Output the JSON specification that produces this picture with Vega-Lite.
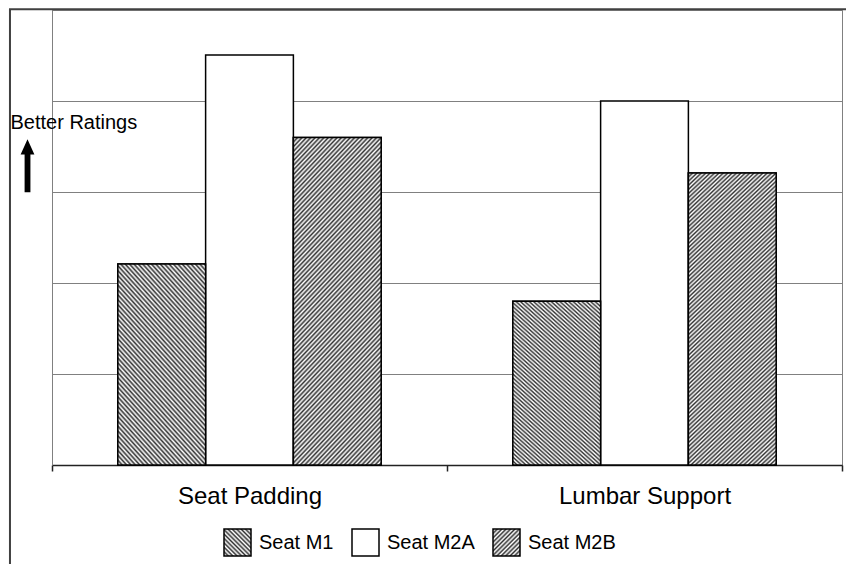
{
"$schema": "https://vega.github.io/schema/vega-lite/v6.json",
"width": 790,
"height": 455,
"autosize": {"type": "none"},
"padding": {"left": 52, "top": 10, "right": 4, "bottom": 99},
"background": "white",
"config": {"font": "Liberation Sans", "view": {"stroke": "#808080", "strokeWidth": 1}},
"resolve": {"scale": {"x": "independent", "y": "independent"}},
"layer": [
{
"data": {"values": [{"k": "frame"}]},
"layer": [
{
"mark": {"type": "rect", "filled": false, "stroke": "#404040", "strokeWidth": 2, "clip": false},
"encoding": {
"x": {"datum": -0.0532, "type": "quantitative", "scale": {"domain": [0, 1], "zero": false, "nice": false}, "axis": null},
"x2": {"datum": 1.2},
"y": {"datum": 5.0088, "type": "quantitative", "scale": {"domain": [0, 5], "zero": false, "nice": false}, "axis": null},
"y2": {"datum": -2}
}
},
{
"mark": {"type": "point", "shape": "M0,-1L0.26,-0.42L0.11,-0.42L0.11,1L-0.11,1L-0.11,-0.42L-0.26,-0.42Z", "filled": true, "color": "black", "opacity": 1, "size": 2800, "clip": false},
"encoding": {
"x": {"datum": -0.031, "type": "quantitative"},
"y": {"datum": 3.289, "type": "quantitative"}
}
}
]
},
{
"data": {"values": [
{"category": "Seat Padding", "series": "Seat M1", "value": 2.21},
{"category": "Seat Padding", "series": "Seat M2A", "value": 4.505},
{"category": "Seat Padding", "series": "Seat M2B", "value": 3.6},
{"category": "Lumbar Support", "series": "Seat M1", "value": 1.8},
{"category": "Lumbar Support", "series": "Seat M2A", "value": 4.0},
{"category": "Lumbar Support", "series": "Seat M2B", "value": 3.21}
]},
"encoding": {
"x": {"field": "category", "type": "nominal", "sort": ["Seat Padding", "Lumbar Support"], "scale": {"domain": ["Seat Padding", "Lumbar Support"], "paddingInner": 0, "paddingOuter": 0},
"axis": {"orient": "bottom", "title": null, "labelAngle": 0, "labelFontSize": 24, "labelColor": "black", "labelBaseline": "alphabetic", "labelPadding": 32, "ticks": true, "tickBand": "extent", "tickSize": 6, "tickColor": "#222", "tickWidth": 1.5, "domainColor": "#222", "domainWidth": 1.5, "grid": false}},
"xOffset": {"field": "series", "type": "nominal", "sort": ["Seat M1", "Seat M2A", "Seat M2B"], "scale": {"domain": ["Seat M1", "Seat M2A", "Seat M2B"], "paddingInner": 0, "paddingOuter": 0.75}},
"y": {"field": "value", "type": "quantitative", "scale": {"domain": [0, 5], "nice": false, "zero": true},
"axis": {"orient": "left", "values": [0, 1, 2, 3, 4, 5], "grid": true, "gridColor": "#808080", "gridWidth": 1, "domainColor": "#808080", "domainWidth": 1, "ticks": false, "labels": false, "title": "Better Ratings", "titleAngle": 0, "titleAlign": "left", "titleBaseline": "alphabetic", "titleX": -42, "titleY": 118, "titleFontSize": 20, "titleFontWeight": "normal", "titleColor": "black", "titleFont": "Liberation Sans"}}
},
"layer": [
{
"mark": {"type": "bar", "stroke": "black", "strokeWidth": 1.5},
"encoding": {
"fill": {"field": "series", "type": "nominal", "scale": {"domain": ["Seat M1", "Seat M2A", "Seat M2B"], "range": [
{"expr": "{gradient:'linear',x1:0,y1:1,x2:8.15,y2:-7.15,stops:[{offset:0,color:'#333'},{offset:0.005,color:'#fff'},{offset:0.01,color:'#333'},{offset:0.015,color:'#fff'},{offset:0.02,color:'#333'},{offset:0.025,color:'#fff'},{offset:0.03,color:'#333'},{offset:0.035,color:'#fff'},{offset:0.04,color:'#333'},{offset:0.045,color:'#fff'},{offset:0.05,color:'#333'},{offset:0.055,color:'#fff'},{offset:0.06,color:'#333'},{offset:0.065,color:'#fff'},{offset:0.07,color:'#333'},{offset:0.075,color:'#fff'},{offset:0.08,color:'#333'},{offset:0.085,color:'#fff'},{offset:0.09,color:'#333'},{offset:0.095,color:'#fff'},{offset:0.1,color:'#333'},{offset:0.105,color:'#fff'},{offset:0.11,color:'#333'},{offset:0.115,color:'#fff'},{offset:0.12,color:'#333'},{offset:0.125,color:'#fff'}]}"},
"#ffffff",
{"expr": "{gradient:'linear',x1:0,y1:0,x2:8.15,y2:8.15,stops:[{offset:0,color:'#333'},{offset:0.005,color:'#fff'},{offset:0.01,color:'#333'},{offset:0.015,color:'#fff'},{offset:0.02,color:'#333'},{offset:0.025,color:'#fff'},{offset:0.03,color:'#333'},{offset:0.035,color:'#fff'},{offset:0.04,color:'#333'},{offset:0.045,color:'#fff'},{offset:0.05,color:'#333'},{offset:0.055,color:'#fff'},{offset:0.06,color:'#333'},{offset:0.065,color:'#fff'},{offset:0.07,color:'#333'},{offset:0.075,color:'#fff'},{offset:0.08,color:'#333'},{offset:0.085,color:'#fff'},{offset:0.09,color:'#333'},{offset:0.095,color:'#fff'},{offset:0.1,color:'#333'},{offset:0.105,color:'#fff'},{offset:0.11,color:'#333'},{offset:0.115,color:'#fff'},{offset:0.12,color:'#333'},{offset:0.125,color:'#fff'}]}"}
]},
"legend": {"title": null, "orient": "none", "legendX": 171, "legendY": 518, "direction": "horizontal", "padding": 0, "symbolType": "square", "symbolSize": 729, "symbolStrokeColor": "black", "symbolStrokeWidth": 1.5, "symbolOpacity": 1, "labelFontSize": 20, "labelColor": "black", "labelFont": "Liberation Sans", "labelOffset": 7, "columnPadding": 15}}
}
},
{
"transform": [{"filter": "datum.series === 'Seat M1'"}],
"mark": {"type": "bar", "stroke": "black", "strokeWidth": 1.5, "fill": {"gradient": "linear", "x1": 0, "y1": 1, "x2": 0.947, "y2": -0.96, "stops": [
{"offset":0,"color":"#333"},{"offset":0.005,"color":"#fff"},{"offset":0.01,"color":"#333"},{"offset":0.015,"color":"#fff"},{"offset":0.02,"color":"#333"},{"offset":0.025,"color":"#fff"},{"offset":0.03,"color":"#333"},{"offset":0.035,"color":"#fff"},{"offset":0.04,"color":"#333"},{"offset":0.045,"color":"#fff"},{"offset":0.05,"color":"#333"},{"offset":0.055,"color":"#fff"},{"offset":0.06,"color":"#333"},{"offset":0.065,"color":"#fff"},{"offset":0.07,"color":"#333"},{"offset":0.075,"color":"#fff"},{"offset":0.08,"color":"#333"},{"offset":0.085,"color":"#fff"},{"offset":0.09,"color":"#333"},{"offset":0.095,"color":"#fff"},
{"offset":0.1,"color":"#333"},{"offset":0.105,"color":"#fff"},{"offset":0.11,"color":"#333"},{"offset":0.115,"color":"#fff"},{"offset":0.12,"color":"#333"},{"offset":0.125,"color":"#fff"},{"offset":0.13,"color":"#333"},{"offset":0.135,"color":"#fff"},{"offset":0.14,"color":"#333"},{"offset":0.145,"color":"#fff"},{"offset":0.15,"color":"#333"},{"offset":0.155,"color":"#fff"},{"offset":0.16,"color":"#333"},{"offset":0.165,"color":"#fff"},{"offset":0.17,"color":"#333"},{"offset":0.175,"color":"#fff"},{"offset":0.18,"color":"#333"},{"offset":0.185,"color":"#fff"},{"offset":0.19,"color":"#333"},{"offset":0.195,"color":"#fff"},
{"offset":0.2,"color":"#333"},{"offset":0.205,"color":"#fff"},{"offset":0.21,"color":"#333"},{"offset":0.215,"color":"#fff"},{"offset":0.22,"color":"#333"},{"offset":0.225,"color":"#fff"},{"offset":0.23,"color":"#333"},{"offset":0.235,"color":"#fff"},{"offset":0.24,"color":"#333"},{"offset":0.245,"color":"#fff"},{"offset":0.25,"color":"#333"},{"offset":0.255,"color":"#fff"},{"offset":0.26,"color":"#333"},{"offset":0.265,"color":"#fff"},{"offset":0.27,"color":"#333"},{"offset":0.275,"color":"#fff"},{"offset":0.28,"color":"#333"},{"offset":0.285,"color":"#fff"},{"offset":0.29,"color":"#333"},{"offset":0.295,"color":"#fff"},
{"offset":0.3,"color":"#333"},{"offset":0.305,"color":"#fff"},{"offset":0.31,"color":"#333"},{"offset":0.315,"color":"#fff"},{"offset":0.32,"color":"#333"},{"offset":0.325,"color":"#fff"},{"offset":0.33,"color":"#333"},{"offset":0.335,"color":"#fff"},{"offset":0.34,"color":"#333"},{"offset":0.345,"color":"#fff"},{"offset":0.35,"color":"#333"},{"offset":0.355,"color":"#fff"},{"offset":0.36,"color":"#333"},{"offset":0.365,"color":"#fff"},{"offset":0.37,"color":"#333"},{"offset":0.375,"color":"#fff"},{"offset":0.38,"color":"#333"},{"offset":0.385,"color":"#fff"},{"offset":0.39,"color":"#333"},{"offset":0.395,"color":"#fff"},
{"offset":0.4,"color":"#333"},{"offset":0.405,"color":"#fff"},{"offset":0.41,"color":"#333"},{"offset":0.415,"color":"#fff"},{"offset":0.42,"color":"#333"},{"offset":0.425,"color":"#fff"},{"offset":0.43,"color":"#333"},{"offset":0.435,"color":"#fff"},{"offset":0.44,"color":"#333"},{"offset":0.445,"color":"#fff"},{"offset":0.45,"color":"#333"},{"offset":0.455,"color":"#fff"},{"offset":0.46,"color":"#333"},{"offset":0.465,"color":"#fff"},{"offset":0.47,"color":"#333"},{"offset":0.475,"color":"#fff"},{"offset":0.48,"color":"#333"},{"offset":0.485,"color":"#fff"},{"offset":0.49,"color":"#333"},{"offset":0.495,"color":"#fff"},
{"offset":0.5,"color":"#333"},{"offset":0.505,"color":"#fff"},{"offset":0.51,"color":"#333"},{"offset":0.515,"color":"#fff"},{"offset":0.52,"color":"#333"},{"offset":0.525,"color":"#fff"},{"offset":0.53,"color":"#333"},{"offset":0.535,"color":"#fff"},{"offset":0.54,"color":"#333"},{"offset":0.545,"color":"#fff"},{"offset":0.55,"color":"#333"},{"offset":0.555,"color":"#fff"},{"offset":0.56,"color":"#333"},{"offset":0.565,"color":"#fff"},{"offset":0.57,"color":"#333"},{"offset":0.575,"color":"#fff"},{"offset":0.58,"color":"#333"},{"offset":0.585,"color":"#fff"},{"offset":0.59,"color":"#333"},{"offset":0.595,"color":"#fff"},
{"offset":0.6,"color":"#333"},{"offset":0.605,"color":"#fff"},{"offset":0.61,"color":"#333"},{"offset":0.615,"color":"#fff"}
]}}
},
{
"transform": [{"filter": "datum.series === 'Seat M2B'"}],
"mark": {"type": "bar", "stroke": "black", "strokeWidth": 1.5, "fill": {"gradient": "linear", "x1": 0, "y1": 0, "x2": 0.373, "y2": 1.314, "stops": [
{"offset":0,"color":"#333"},{"offset":0.005,"color":"#fff"},{"offset":0.01,"color":"#333"},{"offset":0.015,"color":"#fff"},{"offset":0.02,"color":"#333"},{"offset":0.025,"color":"#fff"},{"offset":0.03,"color":"#333"},{"offset":0.035,"color":"#fff"},{"offset":0.04,"color":"#333"},{"offset":0.045,"color":"#fff"},{"offset":0.05,"color":"#333"},{"offset":0.055,"color":"#fff"},{"offset":0.06,"color":"#333"},{"offset":0.065,"color":"#fff"},{"offset":0.07,"color":"#333"},{"offset":0.075,"color":"#fff"},{"offset":0.08,"color":"#333"},{"offset":0.085,"color":"#fff"},{"offset":0.09,"color":"#333"},{"offset":0.095,"color":"#fff"},
{"offset":0.1,"color":"#333"},{"offset":0.105,"color":"#fff"},{"offset":0.11,"color":"#333"},{"offset":0.115,"color":"#fff"},{"offset":0.12,"color":"#333"},{"offset":0.125,"color":"#fff"},{"offset":0.13,"color":"#333"},{"offset":0.135,"color":"#fff"},{"offset":0.14,"color":"#333"},{"offset":0.145,"color":"#fff"},{"offset":0.15,"color":"#333"},{"offset":0.155,"color":"#fff"},{"offset":0.16,"color":"#333"},{"offset":0.165,"color":"#fff"},{"offset":0.17,"color":"#333"},{"offset":0.175,"color":"#fff"},{"offset":0.18,"color":"#333"},{"offset":0.185,"color":"#fff"},{"offset":0.19,"color":"#333"},{"offset":0.195,"color":"#fff"},
{"offset":0.2,"color":"#333"},{"offset":0.205,"color":"#fff"},{"offset":0.21,"color":"#333"},{"offset":0.215,"color":"#fff"},{"offset":0.22,"color":"#333"},{"offset":0.225,"color":"#fff"},{"offset":0.23,"color":"#333"},{"offset":0.235,"color":"#fff"},{"offset":0.24,"color":"#333"},{"offset":0.245,"color":"#fff"},{"offset":0.25,"color":"#333"},{"offset":0.255,"color":"#fff"},{"offset":0.26,"color":"#333"},{"offset":0.265,"color":"#fff"},{"offset":0.27,"color":"#333"},{"offset":0.275,"color":"#fff"},{"offset":0.28,"color":"#333"},{"offset":0.285,"color":"#fff"},{"offset":0.29,"color":"#333"},{"offset":0.295,"color":"#fff"},
{"offset":0.3,"color":"#333"},{"offset":0.305,"color":"#fff"},{"offset":0.31,"color":"#333"},{"offset":0.315,"color":"#fff"},{"offset":0.32,"color":"#333"},{"offset":0.325,"color":"#fff"},{"offset":0.33,"color":"#333"},{"offset":0.335,"color":"#fff"},{"offset":0.34,"color":"#333"},{"offset":0.345,"color":"#fff"},{"offset":0.35,"color":"#333"},{"offset":0.355,"color":"#fff"},{"offset":0.36,"color":"#333"},{"offset":0.365,"color":"#fff"},{"offset":0.37,"color":"#333"},{"offset":0.375,"color":"#fff"},{"offset":0.38,"color":"#333"},{"offset":0.385,"color":"#fff"},{"offset":0.39,"color":"#333"},{"offset":0.395,"color":"#fff"},
{"offset":0.4,"color":"#333"},{"offset":0.405,"color":"#fff"},{"offset":0.41,"color":"#333"},{"offset":0.415,"color":"#fff"},{"offset":0.42,"color":"#333"},{"offset":0.425,"color":"#fff"},{"offset":0.43,"color":"#333"},{"offset":0.435,"color":"#fff"},{"offset":0.44,"color":"#333"},{"offset":0.445,"color":"#fff"},{"offset":0.45,"color":"#333"},{"offset":0.455,"color":"#fff"},{"offset":0.46,"color":"#333"},{"offset":0.465,"color":"#fff"},{"offset":0.47,"color":"#333"},{"offset":0.475,"color":"#fff"},{"offset":0.48,"color":"#333"},{"offset":0.485,"color":"#fff"},{"offset":0.49,"color":"#333"},{"offset":0.495,"color":"#fff"},
{"offset":0.5,"color":"#333"},{"offset":0.505,"color":"#fff"},{"offset":0.51,"color":"#333"},{"offset":0.515,"color":"#fff"},{"offset":0.52,"color":"#333"},{"offset":0.525,"color":"#fff"},{"offset":0.53,"color":"#333"},{"offset":0.535,"color":"#fff"},{"offset":0.54,"color":"#333"},{"offset":0.545,"color":"#fff"},{"offset":0.55,"color":"#333"},{"offset":0.555,"color":"#fff"},{"offset":0.56,"color":"#333"},{"offset":0.565,"color":"#fff"},{"offset":0.57,"color":"#333"},{"offset":0.575,"color":"#fff"},{"offset":0.58,"color":"#333"},{"offset":0.585,"color":"#fff"},{"offset":0.59,"color":"#333"},{"offset":0.595,"color":"#fff"},
{"offset":0.6,"color":"#333"},{"offset":0.605,"color":"#fff"},{"offset":0.61,"color":"#333"},{"offset":0.615,"color":"#fff"},{"offset":0.62,"color":"#333"},{"offset":0.625,"color":"#fff"},{"offset":0.63,"color":"#333"},{"offset":0.635,"color":"#fff"},{"offset":0.64,"color":"#333"},{"offset":0.645,"color":"#fff"},{"offset":0.65,"color":"#333"},{"offset":0.655,"color":"#fff"},{"offset":0.66,"color":"#333"},{"offset":0.665,"color":"#fff"},{"offset":0.67,"color":"#333"},{"offset":0.675,"color":"#fff"},{"offset":0.68,"color":"#333"},{"offset":0.685,"color":"#fff"},{"offset":0.69,"color":"#333"},{"offset":0.695,"color":"#fff"},
{"offset":0.7,"color":"#333"},{"offset":0.705,"color":"#fff"},{"offset":0.71,"color":"#333"},{"offset":0.715,"color":"#fff"},{"offset":0.72,"color":"#333"},{"offset":0.725,"color":"#fff"},{"offset":0.73,"color":"#333"},{"offset":0.735,"color":"#fff"},{"offset":0.74,"color":"#333"},{"offset":0.745,"color":"#fff"},{"offset":0.75,"color":"#333"},{"offset":0.755,"color":"#fff"},{"offset":0.76,"color":"#333"},{"offset":0.765,"color":"#fff"},{"offset":0.77,"color":"#333"},{"offset":0.775,"color":"#fff"},{"offset":0.78,"color":"#333"},{"offset":0.785,"color":"#fff"},{"offset":0.79,"color":"#333"},{"offset":0.795,"color":"#fff"},
{"offset":0.8,"color":"#333"},{"offset":0.805,"color":"#fff"},{"offset":0.81,"color":"#333"},{"offset":0.815,"color":"#fff"},{"offset":0.82,"color":"#333"},{"offset":0.825,"color":"#fff"},{"offset":0.83,"color":"#333"},{"offset":0.835,"color":"#fff"},{"offset":0.84,"color":"#333"},{"offset":0.845,"color":"#fff"},{"offset":0.85,"color":"#333"},{"offset":0.855,"color":"#fff"},{"offset":0.86,"color":"#333"},{"offset":0.865,"color":"#fff"},{"offset":0.87,"color":"#333"},{"offset":0.875,"color":"#fff"},{"offset":0.88,"color":"#333"},{"offset":0.885,"color":"#fff"},{"offset":0.89,"color":"#333"},{"offset":0.895,"color":"#fff"},
{"offset":0.9,"color":"#333"},{"offset":0.905,"color":"#fff"}
]}}
}
]
}
]
}
